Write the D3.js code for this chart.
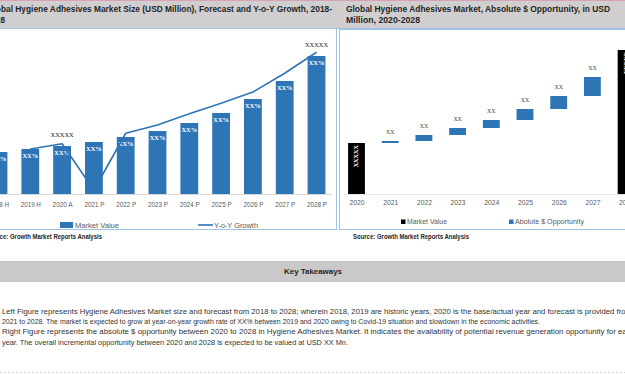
<!DOCTYPE html>
<html>
<head>
<meta charset="utf-8">
<script src="https://cdn.jsdelivr.net/npm/d3@7"></script>
<style>
  html, body { margin: 0; padding: 0; background: #fff; overflow: hidden; }
  text { font-family: "Liberation Sans", Arial, sans-serif; }
</style>
</head>
<body>
<div id="chart"></div>
<script>
// ---- data ----
const years = ["2018 H", "2019 H", "2020 A", "2021 P", "2022 P", "2023 P", "2024 P", "2025 P", "2026 P", "2027 P", "2028 P"];
const marketValue = [420, 450, 480, 520, 570, 630, 710, 810, 950, 1130, 1380];
const yoyGrowth = [null, 6.0, 6.7, 0.5, 8.1, 9.2, 10.7, 12.1, 13.6, 16.1, 18.9];
const barLabels = ["XX%", "XX%", "XX%", "XX%", "XX%", "XX%", "XX%", "XX%", "XX%", "XX%", "XX%"];
const valueLabels = ["", "", "XXXXX", "", "", "", "", "", "", "", "XXXXX"];

const oppYears = ["2020", "2021", "2022", "2023", "2024", "2025", "2026", "2027", "2028"];
const oppKind = ["total", "step", "step", "step", "step", "step", "step", "step", "total"];
const oppValues = [510, 20, 60, 70, 80, 110, 130, 190, 1440];
const oppLabels = ["XXXXX", "XX", "XX", "XX", "XX", "XX", "XX", "XX", "XXXXX"];

const leftTitle = ["Global Hygiene Adhesives Market Size (USD Million), Forecast and Y-o-Y Growth, 2018-", "2028"];
const rightTitle = ["Global Hygiene Adhesives Market, Absolute $ Opportunity, in USD", "Million, 2020-2028"];
const sourceText = "Source: Growth Market Reports Analysis";
const takeaways = [
  "Left Figure represents Hygiene Adhesives Market size and forecast from 2018 to 2028; wherein 2018, 2019 are historic years, 2020 is the base/actual year and forecast is provided from",
  "2021 to 2028. The market is expected to grow at year-on-year growth rate of XX% between 2019 and 2020 owing to Covid-19 situation and slowdown in the economic activities.",
  "Right Figure represents the absolute $ opportunity between 2020 to 2028 in Hygiene Adhesives Market. It indicates the availability of potential revenue generation opportunity for each",
  "year. The overall incremental opportunity between 2020 and 2028 is expected to be valued at USD XX Mn."
];

// ---- setup ----
const W = 625, H = 375;
const blue = "#2e75b6";
const frame = "#9dc3e6";
const axisGrey = "#595959";

const svg = d3.select("#chart").append("svg")
  .attr("width", W).attr("height", H)
  .style("display", "block");

svg.append("rect").attr("width", W).attr("height", H).attr("fill", "#fff");

// header band
svg.append("rect").attr("x", 0).attr("y", 0).attr("width", W).attr("height", 1).attr("fill", "#d8a2b6");
svg.append("rect").attr("x", 0).attr("y", 1).attr("width", W).attr("height", 27).attr("fill", "#d0cece");
svg.append("line").attr("x1", 0).attr("x2", W).attr("y1", 28.5).attr("y2", 28.5)
  .attr("stroke", frame).attr("stroke-width", 1);

// panel frames
svg.append("rect").attr("x", -5).attr("y", 28.5).attr("width", 341.5).attr("height", 201)
  .attr("fill", "none").attr("stroke", frame);
svg.append("rect").attr("x", 339.5).attr("y", 29.5).attr("width", 300).attr("height", 200)
  .attr("fill", "none").attr("stroke", frame);

function addText(g, str, x, y, opts) {
  const t = g.append("text").attr("x", x).attr("y", y).text(str)
    .attr("font-size", opts.size || 7)
    .attr("fill", opts.fill || "#262626")
    .attr("font-weight", opts.weight || "normal")
    .attr("text-anchor", opts.anchor || "start")
    .attr("dominant-baseline", "middle");
  if (opts.len) t.attr("textLength", opts.len).attr("lengthAdjust", "spacingAndGlyphs");
  if (opts.family) t.style("font-family", opts.family);
  return t;
}

// titles
addText(svg, leftTitle[0], -13, 9.5, { size: 9.4, weight: "bold", len: 345 });
addText(svg, leftTitle[1], -13, 20.5, { size: 9.4, weight: "bold", len: 18 });
addText(svg, rightTitle[0], 346, 9.5, { size: 9.4, weight: "bold", len: 264 });
addText(svg, rightTitle[1], 346, 20.5, { size: 9.4, weight: "bold", len: 74 });

// ---- left chart ----
const xL = d3.scalePoint().domain(years).range([-1.5, 316.5]);
const barW = xL.step() * 0.56;
const yL = d3.scaleLinear().domain([0, 1400]).range([194, 54]);
const yG = d3.scaleLinear().domain([0, 20]).range([194, 44]);

const left = svg.append("g");
const rows = years.map((y, i) => ({ year: y, value: marketValue[i], growth: yoyGrowth[i], label: barLabels[i], top: valueLabels[i] }));

left.append("line").attr("x1", 0).attr("x2", 332).attr("y1", 194.5).attr("y2", 194.5)
  .attr("stroke", "#d9d9d9");

left.selectAll("rect.bar").data(rows).join("rect")
  .attr("class", "bar")
  .attr("x", d => xL(d.year) - barW / 2)
  .attr("y", d => yL(d.value))
  .attr("width", barW)
  .attr("height", d => yL(0) - yL(d.value))
  .attr("fill", blue);

left.selectAll("text.bl").data(rows).join("text")
  .attr("class", "bl")
  .attr("x", d => xL(d.year))
  .attr("y", d => yL(d.value) + 8)
  .attr("text-anchor", "middle")
  .attr("dominant-baseline", "middle")
  .attr("font-size", 6.4)
  .attr("font-weight", "bold")
  .attr("fill", "#fff")
  .style("font-family", "'Liberation Serif', serif")
  .text(d => d.label);

const line = d3.line()
  .defined(d => d.growth != null)
  .x(d => xL(d.year))
  .y(d => yG(d.growth));

left.append("path").datum(rows)
  .attr("d", line)
  .attr("fill", "none")
  .attr("stroke", blue)
  .attr("stroke-width", 1.6)
  .attr("stroke-linejoin", "round");

left.selectAll("text.vl").data(rows.filter(d => d.top)).join("text")
  .attr("class", "vl")
  .attr("x", d => xL(d.year))
  .attr("y", d => yL(d.value) - 10)
  .attr("text-anchor", "middle")
  .attr("dominant-baseline", "middle")
  .attr("font-size", 6.4)
  .attr("fill", "#262626")
  .style("font-family", "'Liberation Serif', serif")
  .text(d => d.top);

left.append("g")
  .attr("transform", "translate(0,194)")
  .call(d3.axisBottom(xL).tickSize(0).tickPadding(8))
  .call(g => g.select(".domain").remove())
  .selectAll("text")
  .attr("font-size", 7.2)
  .attr("fill", axisGrey)
  .attr("textLength", 20)
  .attr("lengthAdjust", "spacingAndGlyphs")
  .style("font-family", "'Liberation Sans', Arial, sans-serif");

// legend left
left.append("rect").attr("x", 60).attr("y", 222).attr("width", 13).attr("height", 6).attr("fill", blue);
addText(left, "Market Value", 75, 225.5, { size: 7.8, fill: axisGrey, len: 44 });
left.append("line").attr("x1", 198).attr("x2", 213).attr("y1", 225).attr("y2", 225)
  .attr("stroke", blue).attr("stroke-width", 1.6);
addText(left, "Y-o-Y Growth", 214, 225.5, { size: 7.8, fill: axisGrey, len: 44 });

addText(left, sourceText, -14, 237.5, { size: 7, weight: "bold", len: 116 });

// ---- right chart ----
const xR = d3.scalePoint().domain(oppYears).range([356.5, 626.1]);
const oppW = xR.step() * 0.5;
const yR = d3.scaleLinear().domain([0, 1440]).range([194, 50]);

let run = 0;
const opp = oppYears.map((y, i) => {
  let lo, hi;
  if (oppKind[i] === "total") { lo = 0; hi = oppValues[i]; run = oppValues[i]; }
  else { lo = run; hi = run + oppValues[i]; run = hi; }
  return { year: y, kind: oppKind[i], lo, hi, label: oppLabels[i] };
});

const right = svg.append("g");
right.append("line").attr("x1", 345).attr("x2", W).attr("y1", 194.5).attr("y2", 194.5)
  .attr("stroke", "#e3e3e3");

right.selectAll("rect.op").data(opp).join("rect")
  .attr("class", "op")
  .attr("x", d => xR(d.year) - oppW / 2)
  .attr("y", d => yR(d.hi))
  .attr("width", oppW)
  .attr("height", d => yR(d.lo) - yR(d.hi))
  .attr("fill", d => d.kind === "total" ? "#000" : blue);

right.selectAll("text.opl").data(opp).join("text")
  .attr("class", "opl")
  .attr("font-size", d => d.kind === "total" ? 6.2 : 5.8)
  .attr("font-weight", d => d.kind === "total" ? "bold" : "normal")
  .attr("fill", d => d.kind === "total" ? "#fff" : "#404040")
  .attr("text-anchor", d => d.kind === "total" ? "end" : "middle")
  .attr("dominant-baseline", "middle")
  .style("font-family", "'Liberation Serif', serif")
  .attr("transform", d => d.kind === "total"
    ? `translate(${xR(d.year)},${yR(d.hi) + 2}) rotate(-90)`
    : `translate(${xR(d.year)},${yR(d.hi) - 8})`)
  .text(d => d.label);

right.append("g")
  .attr("transform", "translate(0,194)")
  .call(d3.axisBottom(xR).tickSize(0).tickPadding(6))
  .call(g => g.select(".domain").remove())
  .selectAll("text")
  .attr("font-size", 6.8)
  .attr("fill", axisGrey)
  .attr("textLength", 15)
  .attr("lengthAdjust", "spacingAndGlyphs")
  .style("font-family", "'Liberation Sans', Arial, sans-serif");

// legend right
right.append("rect").attr("x", 401).attr("y", 219.5).attr("width", 4.5).attr("height", 4.5).attr("fill", "#000");
addText(right, "Market Value", 407, 222.5, { size: 7.2, fill: axisGrey, len: 40 });
right.append("rect").attr("x", 509).attr("y", 219.5).attr("width", 4.5).attr("height", 4.5).attr("fill", blue);
addText(right, "Abolute $ Opportunity", 515, 222.5, { size: 7.2, fill: axisGrey, len: 69 });

addText(right, sourceText, 353, 237.5, { size: 7, weight: "bold", len: 116 });

// ---- key takeaways ----
svg.append("rect").attr("x", 0).attr("y", 261).attr("width", W).attr("height", 21).attr("fill", "#c9c9c9");
addText(svg, "Key Takeaways", 313, 271.5, { size: 8, weight: "bold", anchor: "middle", len: 58 });

const lineLens = [630, 538, 633, 346];
takeaways.forEach((t, i) => {
  addText(svg, t, 2, 312 + i * 10.2, { size: 7.6, fill: "#333", len: lineLens[i] });
});

svg.append("line").attr("x1", 0).attr("x2", W).attr("y1", 372.5).attr("y2", 372.5)
  .attr("stroke", "#d0d0d0").attr("stroke-dasharray", "2,2");
</script>
</body>
</html>
